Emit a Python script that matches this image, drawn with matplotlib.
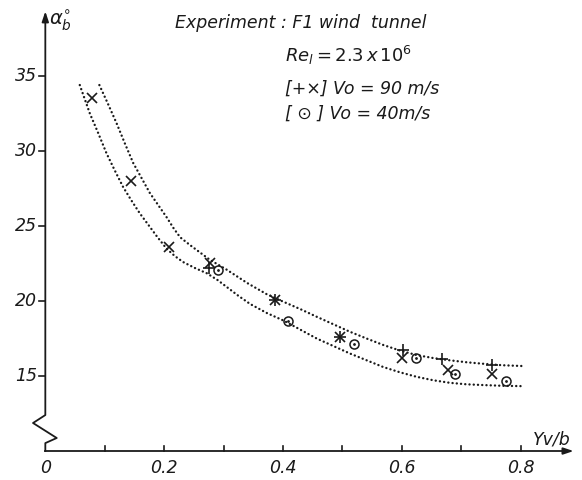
import numpy as np
import matplotlib.pyplot as plt

plt.rcParams['font.family'] = 'DejaVu Sans'
plt.rcParams['mathtext.fontset'] = 'dejavusans'
plt.rcParams['mathtext.default'] = 'it'

# measured points, 90 m/s (x and + markers) and 40 m/s (circles)
x_cross = [0.078, 0.145, 0.209, 0.277, 0.386, 0.496, 0.600, 0.678, 0.752]
y_cross = [33.55, 28.02, 23.6, 22.55, 20.1, 17.62, 16.2, 15.4, 15.13]
x_plus = [0.275, 0.386, 0.496, 0.602, 0.668, 0.752]
y_plus = [22.18, 20.1, 17.62, 16.72, 16.12, 15.72]
x_circ = [0.291, 0.409, 0.519, 0.624, 0.690, 0.775]
y_circ = [22.1, 18.65, 17.13, 16.18, 15.12, 14.65]

# dotted envelope curves
x_upper = [0.091, 0.106, 0.120, 0.134, 0.148, 0.162, 0.176, 0.190, 0.204, 0.216,
           0.227, 0.243, 0.260, 0.277, 0.305, 0.340, 0.373, 0.401, 0.430, 0.457,
           0.485, 0.513, 0.541, 0.569, 0.597, 0.625, 0.653, 0.681, 0.709, 0.737,
           0.770, 0.802]
y_upper = [34.4, 33.1, 31.85, 30.5, 29.2, 28.2, 27.2, 26.4, 25.6, 24.85,
           24.25, 23.75, 23.25, 22.75, 22.1, 21.2, 20.45, 19.95, 19.45, 18.95,
           18.45, 17.95, 17.5, 17.07, 16.7, 16.4, 16.2, 16.05, 15.92, 15.82,
           15.72, 15.67]
x_lower = [0.058, 0.075, 0.089, 0.103, 0.117, 0.131, 0.145, 0.159, 0.174, 0.188,
           0.204, 0.218, 0.232, 0.252, 0.272, 0.290, 0.305, 0.325, 0.345, 0.373,
           0.401, 0.429, 0.457, 0.485, 0.513, 0.541, 0.569, 0.597, 0.625, 0.653,
           0.681, 0.709, 0.737, 0.770, 0.800]
y_lower = [34.4, 32.5, 31.2, 29.85, 28.7, 27.6, 26.7, 25.85, 25.05, 24.3,
           23.5, 23.0, 22.6, 22.2, 21.85, 21.4, 20.95, 20.35, 19.8, 19.2,
           18.7, 18.1, 17.5, 17.0, 16.5, 16.05, 15.6, 15.25, 14.95, 14.72,
           14.55, 14.45, 14.4, 14.35, 14.33]

x_ticks = [0.1, 0.2, 0.3, 0.4, 0.5, 0.6, 0.7, 0.8]
x_ticklabels = {0.0: '0', 0.2: '0.2', 0.4: '0.4', 0.6: '0.6', 0.8: '0.8'}
y_ticks = [15, 20, 25, 30, 35]

W, H = 582, 480
fig = plt.figure(figsize=(W / 100, H / 100), dpi=100)
ax = fig.add_axes([0, 0, 1, 1])
ax.set_xlim(-0.0763, 0.9035)
ax.set_ylim(8.07, 40.07)
ax.axis('off')

ink = '#1a1a1a'
y0 = 10.0
arrow = dict(arrowstyle='-|>,head_length=0.6,head_width=0.2', color=ink, lw=1.3)

# broken y axis with zigzag near the origin
ax.plot([0, 0, 0.0192, -0.0207, 0, 0], [y0, 10.53, 10.87, 11.87, 12.4, 38.6],
        color=ink, lw=1.3)
ax.annotate('', xy=(0, 39.5), xytext=(0, 38.4), arrowprops=arrow)
# x axis
ax.plot([0, 0.88], [y0, y0], color=ink, lw=1.3)
ax.annotate('', xy=(0.894, y0), xytext=(0.87, y0), arrowprops=arrow)

for t in x_ticks:
    ax.plot([t, t], [y0, y0 + 0.35], color=ink, lw=1.2)
for t, lab in x_ticklabels.items():
    ax.text(t, y0 - 0.55, lab, ha='center', va='top', fontsize=12.5, style='italic', color=ink)
for t in y_ticks:
    ax.plot([-0.01, 0], [t, t], color=ink, lw=1.2)
    ax.text(-0.014, t, str(t), ha='right', va='center', fontsize=12.5, style='italic', color=ink)

# envelopes
for xs, ys in [(x_upper, y_upper), (x_lower, y_lower)]:
    ax.plot(xs, ys, color=ink, lw=1.7, dashes=(0.05, 1.75), dash_capstyle='round')

# markers
ax.plot(x_cross, y_cross, ls='none', marker='x', ms=6.5, mew=1.2, color=ink)
ax.plot(x_plus, y_plus, ls='none', marker='+', ms=8, mew=1.2, color=ink)
ax.plot(x_circ, y_circ, ls='none', marker='o', ms=6.5, mew=1.1, mfc='none', color=ink)
ax.plot(x_circ, y_circ, ls='none', marker='.', ms=2, color=ink)


# labels
def px(x, y):
    return x / W, 1 - y / H


fig.text(*px(49, 21), r'$\alpha^{\circ}_{b}$', fontsize=14, va='center', ha='left', color=ink)
fig.text(*px(533, 440), 'Yv/b', fontsize=12.5, style='italic', va='center', ha='left', color=ink)
fig.text(*px(175, 23), 'Experiment : F1 wind  tunnel', fontsize=12.5, style='italic',
         va='center', ha='left', color=ink)
fig.text(*px(285, 55), r'$Re_l = 2.3\,x\,10^6$', fontsize=13, va='center', ha='left', color=ink)
fig.text(*px(285, 89), '[+×] Vo = 90 m/s', fontsize=12.5, style='italic',
         va='center', ha='left', color=ink)
fig.text(*px(285, 114), '[ ⊙ ] Vo = 40m/s', fontsize=12.5, style='italic',
         va='center', ha='left', color=ink)

fig.savefig('out.png', dpi=100)
